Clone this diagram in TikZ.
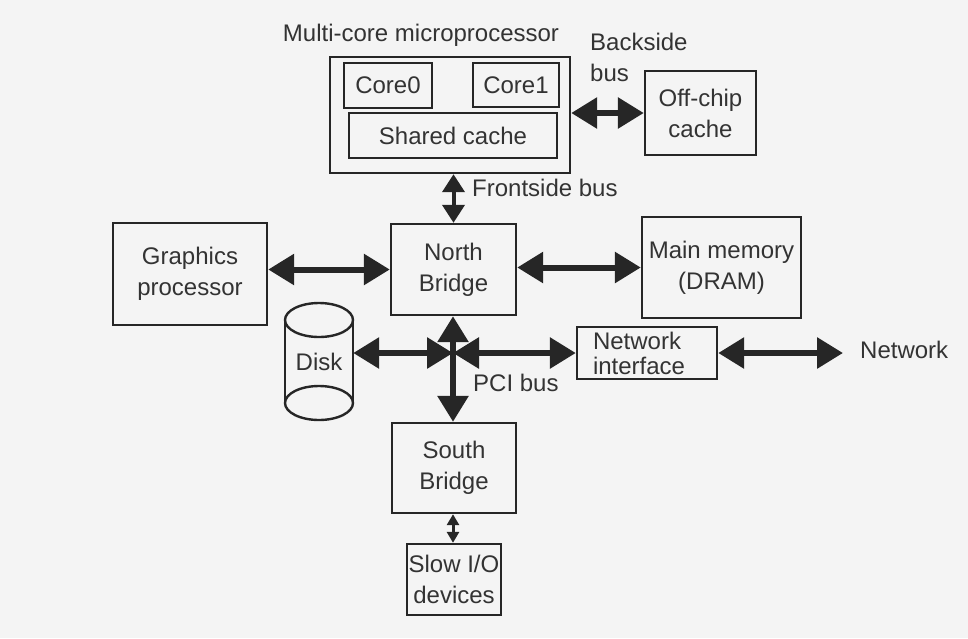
\documentclass[tikz,border=0pt]{standalone}
\usepackage{fontspec}
\setmainfont{Liberation Sans}
\usetikzlibrary{arrows.meta}
\definecolor{ink}{HTML}{262626}
\definecolor{txt}{HTML}{333333}
\definecolor{paper}{HTML}{F4F4F4}
\begin{document}
\begin{tikzpicture}[x=1pt,y=-1pt,
  box/.style={draw=ink,line width=2.4pt,rectangle,inner sep=0pt,align=center,text=txt},
  lbl/.style={text=txt,inner sep=0pt,align=left},
  bigarrow/.style={draw=ink,line width=6pt,{Triangle[length=26pt,width=30pt]}-{Triangle[length=26pt,width=30pt]}},
  midarrow/.style={draw=ink,line width=4pt,{Triangle[length=18pt,width=22pt]}-{Triangle[length=18pt,width=22pt]}},
  smallarrow/.style={draw=ink,line width=3pt,{Triangle[length=11pt,width=12pt]}-{Triangle[length=11pt,width=12pt]}},
  every node/.style={font=\fontsize{24}{31}\selectfont}]
\fill[paper] (0,0) rectangle (968,638);
\useasboundingbox (0,0) rectangle (968,638);

% multi-core processor
\node[box,minimum width=240pt,minimum height=116pt] (mc) at (450,115) {};
\node[box,minimum width=88pt,minimum height=45pt] (c0) at (388,85.5) {Core0};
\node[box,minimum width=86pt,minimum height=44pt] (c1) at (516,85) {Core1};
\node[box,minimum width=208pt,minimum height=45pt] (sc) at (453,135.5) {Shared cache};
\node[lbl] (mctitle) at (421,35) {Multi-core microprocessor};

\node[box,minimum width=111pt,minimum height=84pt] (oc) at (700.5,113) {Off-chip\\cache};
\node[lbl,anchor=west] (bsb) at (590,57) {Backside\\bus};

\node[box,minimum width=125pt,minimum height=91pt] (nb) at (453.5,269.5) {North\\Bridge};
\node[box,minimum width=154pt,minimum height=102pt] (gp) at (190,274) {Graphics\\processor};
\node[box,minimum width=159pt,minimum height=101pt] (mm) at (721.5,267.5) {Main memory\\(DRAM)};
\node[box,minimum width=140pt,minimum height=52pt,font=\fontsize{24}{25}\selectfont,align=left,text width=108pt] (ni) at (647,353) {Network\\interface};
\node[lbl,anchor=west] (net) at (860,350) {Network};
\node[box,minimum width=124pt,minimum height=90pt] (sb) at (454,468) {South\\Bridge};
\node[box,minimum width=94pt,minimum height=71pt] (sio) at (454,579.5) {Slow I/O\\devices};

\node[lbl,anchor=west] (fsb) at (472,188) {Frontside bus};
\node[lbl,anchor=west] (pci) at (473,383) {PCI bus};

% disk
\node[inner sep=0pt,minimum width=68pt,minimum height=117pt,text=txt] (disk) at (319,361.5) {Disk};
\draw[ink,line width=2.4pt] (disk.north west) ++(0,17) -- ++(0,83)
  (disk.north east) ++(0,17) -- ++(0,83);
\draw[ink,line width=2.4pt] (319,320) ellipse [x radius=34, y radius=17];
\draw[ink,line width=2.4pt] (319,403) ellipse [x radius=34, y radius=17];

\coordinate (j) at (453,353);

% connectors
\draw[bigarrow] (mc.east |- oc.west) -- (oc.west);
\draw[midarrow] (nb.north |- mc.south) -- (nb.north);
\draw[bigarrow] (gp.east |- nb.west) -- (nb.west);
\draw[bigarrow] (nb.east |- mm.west) -- (mm.west);
\draw[bigarrow] (nb.south -| j) -- (sb.north -| j);
\draw[bigarrow] (disk.east |- j) -- (j);
\draw[bigarrow] (j) -- (ni.west);
\draw[bigarrow,shorten >=17pt] (ni.east) -- (net.west |- ni.east);
\draw[smallarrow] (sb.south -| j) -- (sio.north -| j);
\end{tikzpicture}
\end{document}
